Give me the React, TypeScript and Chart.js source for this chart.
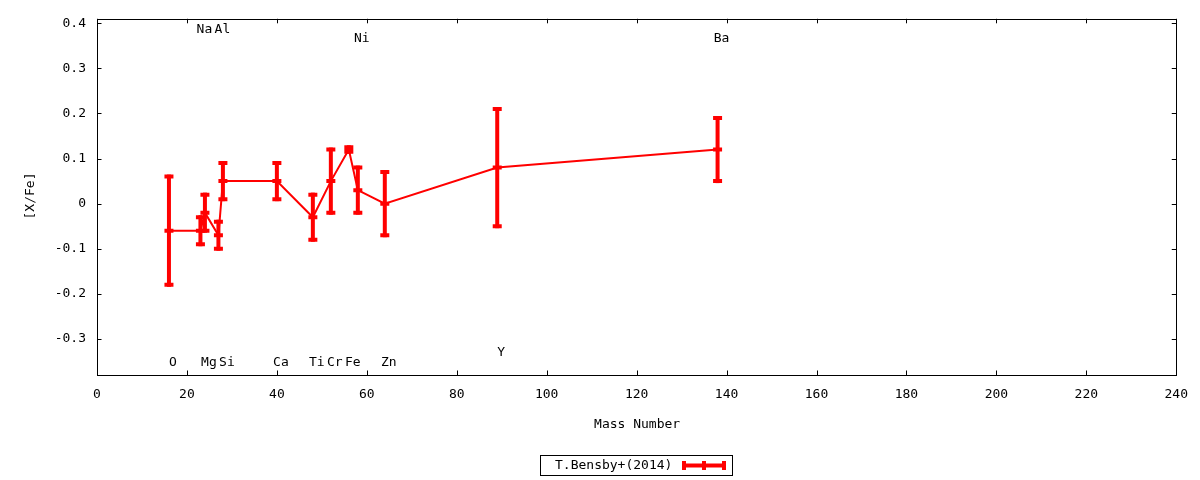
import React, { useEffect, useRef } from 'react';
import { Chart, registerables } from 'chart.js';

Chart.register(...registerables);

// ---- data ----
const elements = ['O', 'Na', 'Mg', 'Al', 'Si', 'Ca', 'Ti', 'Cr', 'Fe', 'Ni', 'Zn', 'Y', 'Ba'];
const massNumbers = [16, 23, 24, 27, 28, 40, 48, 52, 56, 58, 64, 89, 138];
const abundances = [-0.06, -0.06, -0.02, -0.07, 0.05, 0.05, -0.03, 0.05, 0.12, 0.03, 0.0, 0.08, 0.12];
const errors = [0.12, 0.03, 0.04, 0.03, 0.04, 0.04, 0.05, 0.07, 0.005, 0.05, 0.07, 0.13, 0.07];
const labelLevels = [-0.353, 0.387, -0.353, 0.387, -0.353, -0.353, -0.353, -0.353, -0.353, 0.366, -0.353, -0.331, 0.366];
const xTickValues = [0, 20, 40, 60, 80, 100, 120, 140, 160, 180, 200, 220, 240];
const yTickValues = [-0.3, -0.2, -0.1, 0, 0.1, 0.2, 0.3, 0.4];
const xRange = [0, 240];
const yRange = [-0.38, 0.41];
const seriesLabel = 'T.Bensby+(2014)';
const xTitle = 'Mass Number';
const yTitle = '[X/Fe]';

const FONT_FAMILY = '"DejaVu Sans Mono", monospace';
const FONT = '13px ' + FONT_FAMILY;
const RED = '#ff0000';

const decorPlugin = {
  id: 'gnuplotDecor',
  afterDatasetsDraw(chart: any) {
    const ctx: CanvasRenderingContext2D = chart.ctx;
    const { left, right, top, bottom } = chart.chartArea;
    const xs = chart.scales.x;
    const ys = chart.scales.y;
    ctx.save();

    // error bars
    ctx.strokeStyle = RED;
    ctx.lineCap = 'butt';
    for (let i = 0; i < massNumbers.length; i++) {
      const px = xs.getPixelForValue(massNumbers[i]);
      const py = ys.getPixelForValue(abundances[i]);
      const y1 = ys.getPixelForValue(abundances[i] + errors[i]);
      const y2 = ys.getPixelForValue(abundances[i] - errors[i]);
      ctx.lineWidth = 4;
      ctx.beginPath();
      ctx.moveTo(px, y1 - 2);
      ctx.lineTo(px, y2 + 2);
      ctx.stroke();
      ctx.lineWidth = 4;
      ctx.beginPath();
      for (const yy of [y1, y2, py]) {
        ctx.moveTo(px - 4.5, yy);
        ctx.lineTo(px + 4.5, yy);
      }
      ctx.stroke();
    }

    // border
    ctx.strokeStyle = '#000';
    ctx.lineWidth = 1;
    ctx.strokeRect(Math.round(left) + 0.5, Math.round(top) + 0.5, Math.round(right - left), Math.round(bottom - top));

    // inward ticks on all four sides
    const tl = 4.5;
    ctx.beginPath();
    for (const v of xTickValues) {
      const x = Math.round(xs.getPixelForValue(v)) + 0.5;
      ctx.moveTo(x, bottom);
      ctx.lineTo(x, bottom - tl);
      ctx.moveTo(x, top);
      ctx.lineTo(x, top + tl);
    }
    for (const v of yTickValues) {
      const y = Math.round(ys.getPixelForValue(v)) + 0.5;
      ctx.moveTo(left, y);
      ctx.lineTo(left + tl, y);
      ctx.moveTo(right, y);
      ctx.lineTo(right - tl, y);
    }
    ctx.stroke();

    // element labels
    ctx.fillStyle = '#000';
    ctx.font = FONT;
    ctx.textAlign = 'center';
    ctx.textBaseline = 'middle';
    for (let i = 0; i < elements.length; i++) {
      const px = xs.getPixelForValue(massNumbers[i]) + 4;
      const py = ys.getPixelForValue(labelLevels[i]);
      ctx.fillText(elements[i], px, py);
    }

    // axis titles
    ctx.fillText(xTitle, (left + right) / 2 + 0.5, 425);
    ctx.save();
    ctx.translate(31, 196);
    ctx.rotate(-Math.PI / 2);
    ctx.fillText(yTitle, 0, 0);
    ctx.restore();

    // legend
    ctx.lineWidth = 1;
    ctx.strokeRect(540.5, 455.5, 192, 20);
    ctx.textAlign = 'left';
    ctx.fillText(seriesLabel, 555, 466);
    ctx.strokeStyle = RED;
    ctx.lineWidth = 4;
    ctx.beginPath();
    ctx.moveTo(682, 465.5);
    ctx.lineTo(726, 465.5);
    for (const xx of [684, 704, 724]) {
      ctx.moveTo(xx, 461);
      ctx.lineTo(xx, 470);
    }
    ctx.stroke();

    ctx.restore();
  },
};

export default function App() {
  const canvasRef = useRef<HTMLCanvasElement | null>(null);

  useEffect(() => {
    document.body.style.margin = '0';
    const canvas = canvasRef.current;
    if (!canvas) return;
    const points = massNumbers.map((m, i) => ({ x: m, y: abundances[i] }));
    const chart = new Chart(canvas, {
      type: 'scatter',
      data: {
        datasets: [
          {
            label: seriesLabel,
            data: points,
            showLine: true,
            borderColor: RED,
            backgroundColor: RED,
            borderWidth: 2,
            pointRadius: 0,
            tension: 0,
          },
        ],
      },
      options: {
        animation: false,
        responsive: false,
        devicePixelRatio: 1,
        layout: { padding: { left: 0, right: 23, top: 17, bottom: 0 } },
        plugins: {
          legend: { display: false },
          tooltip: { enabled: false },
          title: { display: false },
        },
        scales: {
          x: {
            type: 'linear',
            min: xRange[0],
            max: xRange[1],
            afterBuildTicks: (scale: any) => {
              scale.ticks = xTickValues.map((v) => ({ value: v }));
            },
            afterFit: (scale: any) => {
              scale.height = 105;
            },
            grid: { display: false, drawTicks: false },
            border: { display: false },
            ticks: {
              color: '#000',
              font: { family: FONT_FAMILY, size: 13 },
              padding: 12,
              maxRotation: 0,
              autoSkip: false,
              callback: (v: any) => String(v),
            },
          },
          y: {
            type: 'linear',
            min: yRange[0],
            max: yRange[1],
            afterBuildTicks: (scale: any) => {
              scale.ticks = yTickValues.map((v) => ({ value: v }));
            },
            afterFit: (scale: any) => {
              scale.width = 97;
            },
            grid: { display: false, drawTicks: false },
            border: { display: false },
            ticks: {
              color: '#000',
              font: { family: FONT_FAMILY, size: 13 },
              padding: 11,
              autoSkip: false,
              callback: (v: any) => (Math.abs(v) < 1e-9 ? '0' : Number(v).toFixed(1)),
            },
          },
        },
      },
      plugins: [decorPlugin],
    });
    return () => chart.destroy();
  }, []);

  return (
    <div style={{ width: 1200, height: 480, background: '#fff' }}>
      <canvas ref={canvasRef} width={1200} height={480} style={{ display: 'block', width: 1200, height: 480 }} />
    </div>
  );
}
